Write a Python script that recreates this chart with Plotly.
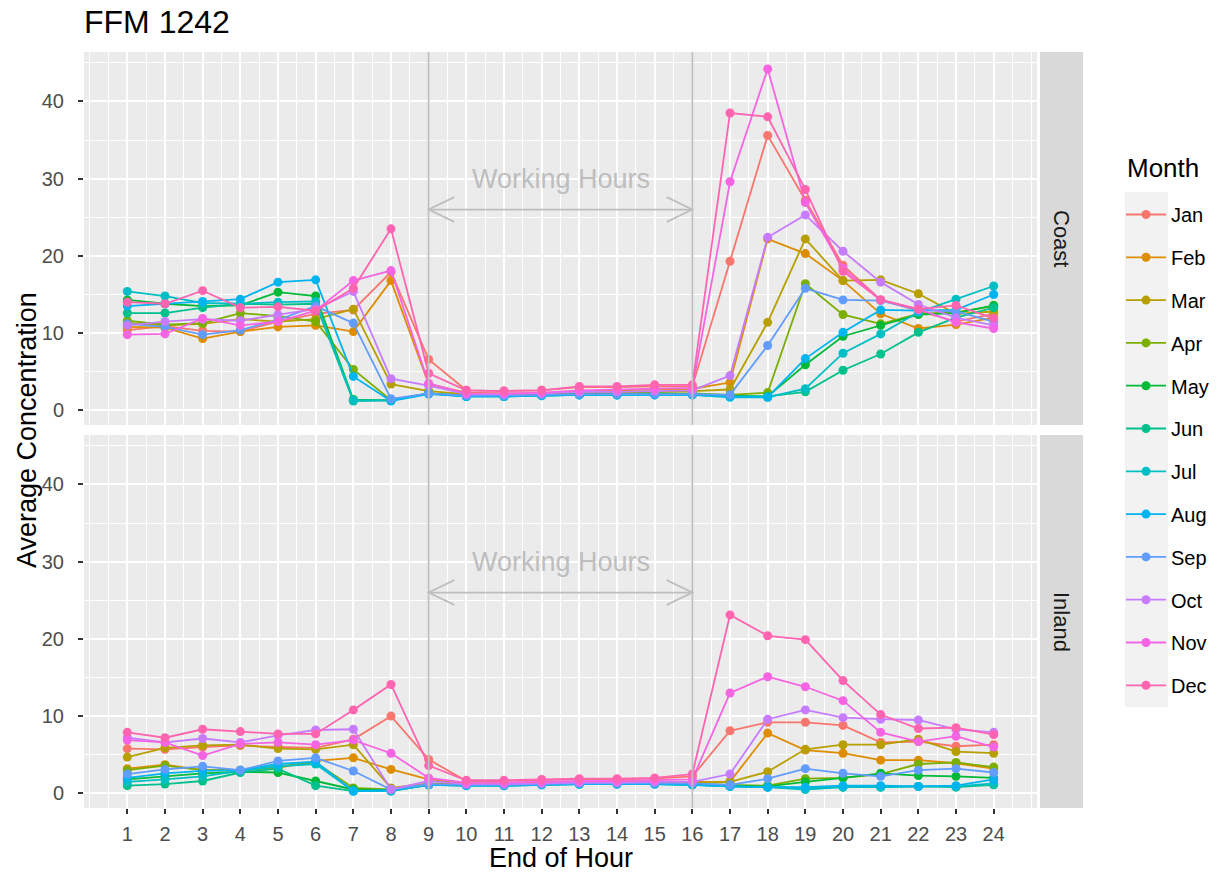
import plotly.graph_objects as go

# ---------------- data ----------------
HOURS = list(range(1, 25))
MONTHS = ["Jan", "Feb", "Mar", "Apr", "May", "Jun", "Jul", "Aug", "Sep", "Oct", "Nov", "Dec"]
COLORS = ["#F8766D", "#DE8C00", "#B79F00", "#7CAE00", "#00BA38", "#00C08B",
          "#00BFC4", "#00B4F0", "#619CFF", "#C77CFF", "#F564E3", "#FF64B0"]
REGIONS = ["Coast", "Inland"]

coast_jan = [10.4, 10.9, 10.3, 10.2, 11.5, 12.5, 13.0, 17.9, 6.6, 2.6, 2.5, 2.6, 3.0, 3.0, 3.1, 3.1, 19.3, 35.6, 27.2, 18.8, 14.3, 12.9, 11.5, 12.5]
coast_feb = [10.8, 10.7, 9.3, 10.2, 10.8, 11.0, 10.2, 16.8, 3.4, 2.3, 2.2, 2.2, 2.5, 2.6, 2.7, 2.8, 3.6, 22.2, 20.3, 16.8, 12.5, 10.6, 11.1, 12.0]
coast_mar = [11.3, 11.0, 11.2, 11.8, 11.5, 11.8, 13.1, 3.4, 2.5, 2.1, 2.1, 2.1, 2.3, 2.3, 2.4, 2.5, 2.7, 11.4, 22.2, 16.8, 16.9, 15.1, 12.5, 12.8]
coast_apr = [11.6, 11.1, 11.3, 12.6, 12.2, 11.5, 5.3, 1.3, 2.2, 1.9, 1.9, 2.0, 2.1, 2.2, 2.2, 2.2, 2.0, 2.3, 16.4, 12.4, 11.2, 12.5, 12.7, 13.5]
coast_may = [14.3, 13.8, 13.5, 13.6, 15.3, 14.8, 1.4, 1.3, 2.2, 1.9, 1.9, 2.0, 2.1, 2.1, 2.2, 2.1, 1.9, 1.8, 5.9, 9.6, 11.0, 12.4, 12.6, 13.6]
coast_jun = [12.6, 12.6, 13.3, 13.8, 13.7, 13.8, 1.2, 1.3, 2.2, 1.8, 1.8, 1.9, 2.0, 2.0, 2.1, 2.0, 1.8, 1.8, 2.4, 5.2, 7.3, 10.1, 12.0, 13.3]
coast_jul = [15.4, 14.8, 13.9, 13.8, 14.0, 14.1, 1.3, 1.3, 2.2, 1.8, 1.8, 1.9, 2.0, 2.0, 2.0, 2.0, 1.7, 1.7, 2.8, 7.4, 9.9, 12.7, 14.4, 16.1]
coast_aug = [13.5, 13.8, 14.1, 14.4, 16.6, 16.9, 4.4, 1.2, 2.1, 1.8, 1.8, 1.9, 2.0, 2.0, 2.0, 2.0, 1.8, 1.7, 6.7, 10.1, 13.0, 12.9, 13.0, 15.0]
coast_sep = [11.2, 10.8, 9.8, 10.4, 11.7, 13.5, 11.3, 1.5, 2.2, 1.9, 1.9, 2.0, 2.1, 2.1, 2.1, 2.1, 2.0, 8.4, 15.8, 14.3, 14.2, 13.0, 12.8, 11.5]
coast_oct = [11.0, 11.5, 11.8, 11.6, 12.4, 13.1, 15.4, 4.1, 3.2, 2.1, 2.1, 2.2, 2.4, 2.4, 2.5, 2.6, 4.5, 22.4, 25.3, 20.6, 16.6, 13.7, 12.0, 11.0]
coast_nov = [9.8, 9.9, 11.9, 11.0, 11.5, 12.9, 16.8, 18.1, 3.5, 2.2, 2.2, 2.3, 2.6, 2.7, 2.8, 2.9, 29.6, 44.2, 26.9, 18.4, 14.3, 13.1, 11.4, 10.6]
coast_dec = [14.0, 13.8, 15.5, 13.3, 13.4, 12.9, 15.8, 23.5, 4.8, 2.6, 2.5, 2.6, 3.1, 3.1, 3.3, 3.3, 38.5, 38.0, 28.6, 18.0, 14.3, 13.1, 13.6, 11.9]

inland_jan = [5.8, 5.7, 6.0, 6.2, 6.0, 5.9, 7.0, 10.0, 4.4, 1.6, 1.6, 1.7, 1.8, 1.8, 1.9, 2.2, 8.1, 9.2, 9.2, 8.8, 6.6, 6.7, 6.1, 6.3]
inland_feb = [3.2, 3.7, 3.0, 3.0, 3.3, 4.2, 4.6, 3.1, 1.8, 1.3, 1.3, 1.4, 1.5, 1.5, 1.5, 1.5, 1.5, 7.8, 5.6, 5.2, 4.3, 4.3, 3.9, 3.2]
inland_mar = [4.7, 5.9, 6.2, 6.3, 5.8, 5.7, 6.3, 0.7, 1.3, 1.2, 1.2, 1.3, 1.4, 1.4, 1.4, 1.4, 1.5, 2.8, 5.7, 6.3, 6.3, 7.0, 5.4, 5.2]
inland_apr = [3.0, 3.6, 3.0, 3.0, 3.5, 4.0, 0.7, 0.5, 1.2, 1.1, 1.1, 1.2, 1.3, 1.3, 1.3, 1.3, 1.1, 1.0, 1.9, 2.0, 2.5, 3.8, 4.0, 3.4]
inland_may = [1.8, 2.2, 2.6, 2.8, 2.7, 1.6, 0.5, 0.4, 1.1, 1.1, 1.1, 1.2, 1.2, 1.3, 1.3, 1.2, 1.0, 0.9, 1.5, 2.0, 2.6, 2.3, 2.2, 2.0]
inland_jun = [1.0, 1.2, 1.6, 2.7, 3.2, 1.0, 0.3, 0.3, 1.1, 1.0, 1.0, 1.1, 1.2, 1.2, 1.2, 1.1, 0.9, 0.8, 0.7, 0.8, 0.8, 0.9, 0.8, 1.1]
inland_jul = [1.5, 1.8, 2.2, 2.9, 3.5, 3.8, 0.3, 0.3, 1.1, 1.0, 1.0, 1.1, 1.2, 1.2, 1.2, 1.1, 0.9, 0.8, 0.5, 0.8, 0.8, 0.9, 0.9, 1.3]
inland_aug = [2.0, 2.6, 2.9, 3.0, 3.8, 4.1, 0.3, 0.4, 1.1, 1.0, 1.0, 1.1, 1.2, 1.2, 1.2, 1.1, 0.9, 0.8, 0.8, 1.0, 1.0, 0.9, 1.0, 1.8]
inland_sep = [2.5, 3.1, 3.5, 3.0, 4.2, 4.6, 2.9, 0.5, 1.2, 1.1, 1.1, 1.2, 1.3, 1.3, 1.3, 1.3, 1.1, 1.9, 3.2, 2.6, 2.2, 3.0, 3.2, 2.7]
inland_oct = [7.2, 6.6, 7.1, 6.6, 7.5, 8.2, 8.3, 0.5, 1.6, 1.2, 1.2, 1.3, 1.4, 1.4, 1.5, 1.5, 2.5, 9.6, 10.8, 9.8, 9.6, 9.5, 8.3, 7.9]
inland_nov = [6.9, 6.6, 4.9, 6.4, 6.6, 6.3, 6.9, 5.2, 2.0, 1.4, 1.4, 1.5, 1.6, 1.6, 1.7, 1.8, 13.0, 15.1, 13.8, 12.0, 7.9, 6.7, 7.4, 6.0]
inland_dec = [7.9, 7.2, 8.3, 8.0, 7.7, 7.7, 10.8, 14.1, 3.6, 1.7, 1.7, 1.8, 1.9, 1.9, 2.0, 2.5, 23.1, 20.4, 19.9, 14.6, 10.2, 8.4, 8.5, 7.6]

COAST = [coast_jan, coast_feb, coast_mar, coast_apr, coast_may, coast_jun,
         coast_jul, coast_aug, coast_sep, coast_oct, coast_nov, coast_dec]
INLAND = [inland_jan, inland_feb, inland_mar, inland_apr, inland_may, inland_jun,
          inland_jul, inland_aug, inland_sep, inland_oct, inland_nov, inland_dec]

WORK_START, WORK_END = 9, 16
WORK_LABEL = "Working Hours"
WORK_LABEL_Y = 30
WORK_ARROW_Y = 26
Y_TICKS = [0, 10, 20, 30, 40]

# ---------------- layout geometry ----------------
W, H = 1230, 875
FONT = "Liberation Sans, Arial, sans-serif"


def fx(p):
    return p / W


def fy(p):
    return 1 - p / H


PANEL_X = (84, 1037)
PANELS_Y = [(52, 425), (435, 808)]  # top, bottom (pixel rows)
STRIP_X = (1040, 1083)

# scales (ggplot-like 5% expansion)
all_vals = [v for s in COAST + INLAND for v in s]
ylo, yhi = min(all_vals), max(all_vals)
ypad = 0.05 * (yhi - ylo)
YRANGE = [ylo - ypad, yhi + ypad]
xpad = 0.05 * (max(HOURS) - min(HOURS))
XRANGE = [min(HOURS) - xpad, max(HOURS) + xpad]
X_MINOR = [0] + [h - 0.5 for h in HOURS] + [max(HOURS) + 0.5, max(HOURS) + 1]
Y_MINOR = [t + 5 for t in Y_TICKS]

fig = go.Figure()

axis_ids = [("x", "y"), ("x2", "y2")]
for r, (region, data) in enumerate(zip(REGIONS, [COAST, INLAND])):
    xa, ya = axis_ids[r]
    for m, (name, col) in enumerate(zip(MONTHS, COLORS)):
        fig.add_trace(go.Scatter(
            x=HOURS, y=data[m], mode="lines+markers", name=name,
            legendgroup=name, showlegend=(r == 0),
            line=dict(color=col, width=1.8),
            marker=dict(color=col, size=9),
            xaxis=xa, yaxis=ya,
        ))

grid_common = dict(showgrid=True, gridcolor="white", gridwidth=2, zeroline=False,
                   showline=False)
tickfont = dict(family=FONT, size=20, color="#4D4D4D")

layout_axes = {}
for r, (y0p, y1p) in enumerate(PANELS_Y):
    xname = "xaxis" if r == 0 else "xaxis2"
    yname = "yaxis" if r == 0 else "yaxis2"
    yref = "y" if r == 0 else "y2"
    xref = "x" if r == 0 else "x2"
    bottom = (r == len(PANELS_Y) - 1)
    layout_axes[xname] = dict(
        domain=[fx(PANEL_X[0]), fx(PANEL_X[1])], range=XRANGE, anchor=yref,
        tickmode="array", tickvals=HOURS, ticktext=[str(h) for h in HOURS],
        showticklabels=bottom, ticks="outside" if bottom else "",
        ticklen=5, tickwidth=1.5, tickcolor="#333333", tickfont=tickfont,
        ticklabelstandoff=3,
        minor=dict(tickvals=X_MINOR, showgrid=True, gridcolor="white", gridwidth=1, ticks=""),
        **grid_common,
    )
    layout_axes[yname] = dict(
        domain=[fy(y1p), fy(y0p)], range=YRANGE, anchor=xref,
        tickmode="array", tickvals=Y_TICKS, ticks="outside",
        ticklen=5, tickwidth=1.5, tickcolor="#333333", tickfont=tickfont,
        ticklabelstandoff=10,
        minor=dict(tickvals=Y_MINOR, showgrid=True, gridcolor="white", gridwidth=1, ticks=""),
        **grid_common,
    )
layout_axes["xaxis2"]["matches"] = "x"

shapes = []
annotations = []
GREY = "#BEBEBE"
HEAD_DX, HEAD_DY = 0.68, 1.6
for r, region in enumerate(REGIONS):
    xref = "x" if r == 0 else "x2"
    yref = "y" if r == 0 else "y2"
    for xv in (WORK_START, WORK_END):
        shapes.append(dict(type="line", xref=xref, yref=yref, x0=xv, x1=xv,
                           y0=YRANGE[0], y1=YRANGE[1], line=dict(color=GREY, width=1.8),
                           layer="above"))
    shapes.append(dict(type="line", xref=xref, yref=yref, x0=WORK_START, x1=WORK_END,
                       y0=WORK_ARROW_Y, y1=WORK_ARROW_Y, line=dict(color=GREY, width=1.8),
                       layer="above"))
    for tip, sgn in ((WORK_START, 1), (WORK_END, -1)):
        path = (f"M {tip + sgn * HEAD_DX},{WORK_ARROW_Y + HEAD_DY} L {tip},{WORK_ARROW_Y} "
                f"L {tip + sgn * HEAD_DX},{WORK_ARROW_Y - HEAD_DY}")
        shapes.append(dict(type="path", xref=xref, yref=yref, path=path,
                           line=dict(color=GREY, width=1.8), layer="above"))
    annotations.append(dict(text=WORK_LABEL, x=(WORK_START + WORK_END) / 2, y=WORK_LABEL_Y,
                            xref=xref, yref=yref, showarrow=False,
                            xanchor="center", yanchor="middle",
                            font=dict(family=FONT, size=27, color=GREY)))
    # facet strip
    y0p, y1p = PANELS_Y[r]
    shapes.append(dict(type="rect", xref="paper", yref="paper",
                       x0=fx(STRIP_X[0]), x1=fx(STRIP_X[1]), y0=fy(y1p), y1=fy(y0p),
                       fillcolor="#D9D9D9", line=dict(width=0), layer="below"))
    annotations.append(dict(text=region, textangle=90, xref="paper", yref="paper",
                            x=fx((STRIP_X[0] + STRIP_X[1]) / 2), y=fy((y0p + y1p) / 2),
                            xanchor="center", yanchor="middle",
                            showarrow=False, font=dict(family=FONT, size=22, color="#1A1A1A")))

# legend key background
shapes.append(dict(type="rect", xref="paper", yref="paper", x0=fx(1125), x1=fx(1168),
                   y0=fy(707), y1=fy(192), fillcolor="#F2F2F2", line=dict(width=0),
                   layer="below"))

annotations.append(dict(text="FFM 1242", xref="paper", yref="paper", x=fx(82), y=fy(22),
                        xanchor="left", yanchor="middle", showarrow=False,
                        font=dict(family=FONT, size=32, color="black")))
annotations.append(dict(text="Average Concentration", xref="paper", yref="paper",
                        x=fx(27), y=fy((PANELS_Y[0][0] + PANELS_Y[1][1]) / 2), textangle=-90,
                        xanchor="center", yanchor="middle",
                        showarrow=False, font=dict(family=FONT, size=27, color="black")))
annotations.append(dict(text="End of Hour", xref="paper", yref="paper",
                        x=fx((PANEL_X[0] + PANEL_X[1]) / 2), y=fy(858),
                        xanchor="center", yanchor="middle",
                        showarrow=False, font=dict(family=FONT, size=27, color="black")))
annotations.append(dict(text="Month", xref="paper", yref="paper", x=fx(1125), y=fy(168),
                        xanchor="left", yanchor="middle", showarrow=False,
                        font=dict(family=FONT, size=26, color="black")))

fig.update_layout(
    width=W, height=H, margin=dict(l=0, r=0, t=0, b=0),
    paper_bgcolor="white", plot_bgcolor="#EBEBEB",
    font=dict(family=FONT, color="black"),
    shapes=shapes, annotations=annotations,
    legend=dict(
        x=fx(1121), xanchor="left", y=fy(195), yanchor="top",
        font=dict(family=FONT, size=20, color="black"),
        bgcolor="rgba(0,0,0,0)", traceorder="grouped", tracegroupgap=13.8,
        itemwidth=40,
    ),
    **layout_axes,
)

fig.write_html("out.html", config={"displayModeBar": False},
               post_script="document.body.style.margin='0px';")
